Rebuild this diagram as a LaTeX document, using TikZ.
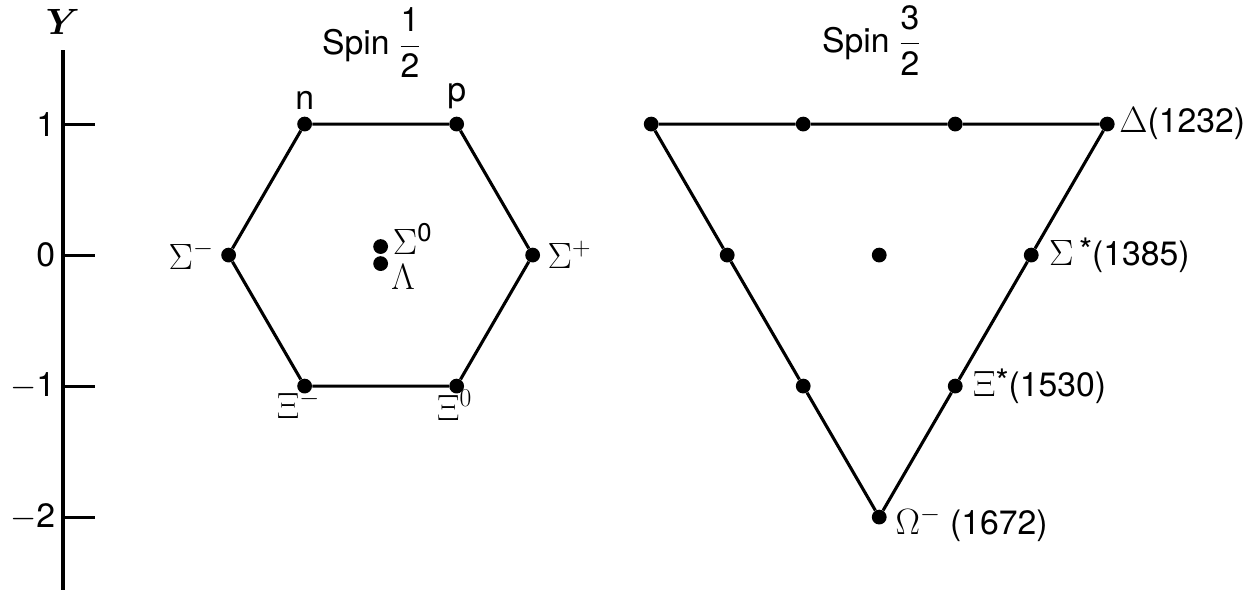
\RequirePackage{fix-cm}
\documentclass[tikz,border=0pt]{standalone}
\usepackage{amsmath}
\usepackage{fontspec}
\setmainfont{TeX Gyre Heros}
\usetikzlibrary{positioning}
\newcommand{\gk}[1]{{\fontsize{26}{30}\selectfont$#1$}}

\begin{document}
\begin{tikzpicture}[
    x=3.8cm, y=3.275cm,
    font=\fontsize{24}{28}\selectfont,
    dot/.style={circle, fill, inner sep=0pt, minimum size=0.37cm},
    edge/.style={line width=2.2pt},
    tick/.style={line width=2.2pt},
    lbl/.style={inner sep=2pt}
]
\useasboundingbox (-0.414,-2.557) rectangle (7.796,1.947);

% Y axis
\coordinate (atop) at (0,1.565);
\coordinate (abot) at (0,-2.557);
\draw[line width=2.8pt] (atop) -- (abot);
\node at (0,1.78) {\gk{\boldsymbol{Y}}};
\foreach \y/\t in {1/1, 0/0, -1/$-$1, -2/$-$2} {
  \coordinate (t\y) at (0,\y);
  \coordinate (u\y) at (0.21,\y);
  \draw[tick] (t\y) -- (u\y);
  \node[anchor=east, inner sep=0pt] at (-0.05,\y) {\t};
}

% spin 1/2 octet
\begin{scope}[shift={(2.09,0)}]
\node at (-0.06,1.62) {Spin $\dfrac{\text{1}}{\text{2}}$};
\node[dot] (n) at (-0.5,1) {};
\node[dot] (p) at (0.5,1) {};
\node[dot] (sp) at (1,0) {};
\node[dot] (x0) at (0.5,-1) {};
\node[dot] (xm) at (-0.5,-1) {};
\node[dot] (sm) at (-1,0) {};
\node[dot] (s0) at (0,0.065) {};
\node[dot] (lam) at (0,-0.065) {};
\draw[edge] (n) -- (p) -- (sp) -- (x0) -- (xm) -- (sm) -- (n);
\node[lbl, above=3pt of n] {n};
\node[lbl, above=3pt of p] {p};
\node[lbl, left=3pt of sm] {\gk{\Sigma^-}};
\node[lbl, right=3pt of sp] {\gk{\Sigma^+}};
\node[lbl, below left=-3pt and -17pt of xm] {\gk{\Xi^-}};
\node[lbl, below left=-3pt and -17pt of x0] {\gk{\Xi^0}};
\node[lbl, anchor=south west] at (0.06,-0.02) {\gk{\Sigma^{\text{0}}}};
\node[lbl, anchor=north west] at (0.05,-0.05) {\gk{\Lambda}};
\end{scope}

% spin 3/2 decuplet
\begin{scope}[shift={(5.37,0)}]
\node at (-0.05,1.64) {Spin $\dfrac{\text{3}}{\text{2}}$};
\node[dot] (d1) at (-1.5,1) {};
\node[dot] (d2) at (-0.5,1) {};
\node[dot] (d3) at (0.5,1) {};
\node[dot] (d4) at (1.5,1) {};
\node[dot] (s1) at (-1,0) {};
\node[dot] (s2) at (0,0) {};
\node[dot] (s3) at (1,0) {};
\node[dot] (c1) at (-0.5,-1) {};
\node[dot] (c2) at (0.5,-1) {};
\node[dot] (om) at (0,-2) {};
\draw[edge] (d1) -- (d2) -- (d3) -- (d4) -- (s3) -- (c2) -- (om) -- (c1) -- (s1) -- (d1);
\node[lbl, right=1pt of d4] {\gk{\Delta}(1232)};
\node[lbl, right=5pt of s3] {\gk{\Sigma}\,\raisebox{2pt}{*}(1385)};
\node[lbl, right=5pt of c2] {\gk{\Xi}\raisebox{2pt}{*}(1530)};
\node[lbl, anchor=west] at ([xshift=4pt,yshift=-5pt]om.east) {\gk{\Omega^-} (1672)};
\end{scope}
\end{tikzpicture}
\end{document}
